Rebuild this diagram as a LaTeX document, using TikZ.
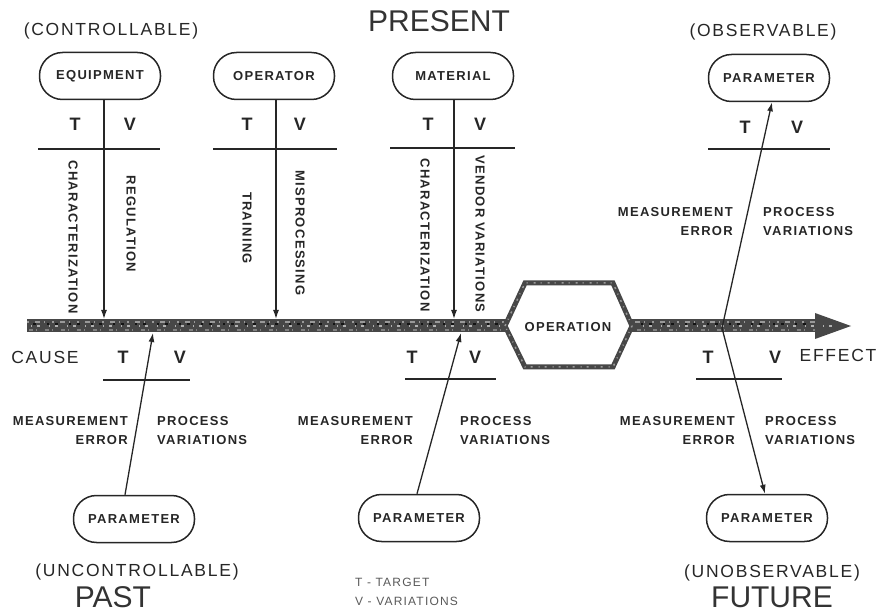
\documentclass[tikz,border=0pt]{standalone}
\usepackage{fontspec}
\setmainfont{Liberation Sans}
\newfontfamily\spaced[LetterSpace=10]{Liberation Sans}
\usetikzlibrary{arrows.meta,calc}

\tikzset{
  pill/.style={draw=black!85, line width=1.5pt, rounded corners=23pt,
    minimum width=121pt, minimum height=47pt, inner sep=0pt,
    font=\spaced\bfseries\fontsize{13}{15}\selectfont, text=black!85},
  lab/.style={inner sep=0pt, font=\spaced\bfseries\fontsize{13}{19}\selectfont, text=black!85},
  vlab/.style={lab, rotate=-90},
  tv/.style={inner sep=0pt, font=\bfseries\fontsize{18}{20}\selectfont, text=black!85},
  side/.style={inner sep=0pt, font=\spaced\fontsize{17.5}{20}\selectfont, text=black!85},
  era/.style={inner sep=0pt, font=\fontsize{30}{32}\selectfont, text=black!80},
  legend/.style={inner sep=0pt, align=left, font=\spaced\fontsize{12}{19}\selectfont, text=black!65},
  conn/.style={draw=black!85, line width=1.3pt},
  arr/.style={conn, -{Latex[length=9pt,width=6pt]}},
  tvrule/.style={draw=black!85, line width=1.6pt},
  grain/.style={line width=#1},
  hexpath/.style={insert path={
    ([shift={(-63,-1)}]opc) -- ([shift={(-43,-44)}]opc)
    -- ([shift={(45,-44)}]opc) -- ([shift={(64,-1)}]opc)
    -- ([shift={(45,40)}]opc) -- ([shift={(-43,40)}]opc) -- cycle}},
}

\begin{document}
\begin{tikzpicture}[x=1pt,y=-1pt]
\useasboundingbox (0,0) rectangle (876,612);

% ---- main cause/effect spine ----
\coordinate (tail) at (27,326);
\coordinate (head) at (815,326);
\draw[black!72, line width=13pt] (tail) -- (head);
\fill[black!72] (815,313) -- (851,326) -- (815,339) -- cycle;
% mottled grain on the spine
\draw[black!40, grain=2pt, dash pattern=on 2pt off 6pt on 5pt off 4pt on 1pt off 7pt] (27,322) -- (815,322);
\draw[black!50, grain=2pt, dash pattern=on 4pt off 3pt on 1pt off 8pt] (29,330) -- (815,330);
\draw[black!30, grain=1.2pt, dash pattern=on 1pt off 5pt on 3pt off 9pt] (31,326) -- (840,326);
\draw[black!92, grain=1.5pt, dash pattern=on 3pt off 11pt on 2pt off 6pt] (33,324) -- (812,324);

% ---- operation hexagon ----
\coordinate (opc) at (568,327);
\path[fill=white, hexpath];
\draw[black!72, line width=5pt, line join=miter, hexpath];
\draw[black!40, grain=1.5pt, dash pattern=on 2pt off 5pt on 1pt off 6pt, hexpath];
\node[lab] (op) at (opc) {OPERATION};

% ---- present: controllable inputs ----
\node[pill] (eq)  at (100,76) {EQUIPMENT};
\node[pill] (opr) at (274,76) {OPERATOR};
\node[pill] (mat) at (453,76) {MATERIAL};

\coordinate (s1) at (104,319);
\coordinate (s2) at (276,319);
\coordinate (s3) at (454,319);
\draw[arr] (eq.south -| s1) -- (s1);
\draw[arr] (opr.south -| s2) -- (s2);
\draw[arr] (mat.south -| s3) -- (s3);

\draw[tvrule] (38,149) -- (160,149);
\draw[tvrule] (213,149) -- (337,149);
\draw[tvrule] (390,148) -- (515,148);

\node[tv] at (75,124) {T};   \node[tv] at (130,124) {V};
\node[tv] at (247,124) {T};  \node[tv] at (300,124) {V};
\node[tv] at (428,124) {T};  \node[tv] at (480,124) {V};

\node[vlab] at (73,237)  {CHARACTERIZATION};
\node[vlab] at (131,224) {REGULATION};
\node[vlab] at (247,228) {TRAINING};
\node[vlab] at (300,233) {MISPROCESSING};
\node[vlab] at (425,235) {CHARACTERIZATION};
\node[vlab] at (480,234) {VENDOR VARIATIONS};

% ---- past: uncontrollable parameter ----
\node[pill] (pl) at (134,519) {PARAMETER};
\coordinate (b1) at (153,333);
\draw[arr] ($(pl.north)+(-9,0)$) -- (b1);
\draw[tvrule] (103,380) -- (190,380);
\node[tv] at (123,357) {T};  \node[tv] at (180,357) {V};
\node[lab, align=right, anchor=east] at (128,431) {MEASUREMENT\\ERROR};
\node[lab, align=left, anchor=west]  at (157,431) {PROCESS\\VARIATIONS};

% ---- present: measured parameter ----
\node[pill] (pm) at (419,518) {PARAMETER};
\coordinate (b2) at (461,333);
\draw[arr] ($(pm.north)+(-2,0)$) -- (b2);
\draw[tvrule] (405,379) -- (496,379);
\node[tv] at (412,357) {T};  \node[tv] at (475,357) {V};
\node[lab, align=right, anchor=east] at (413,431) {MEASUREMENT\\ERROR};
\node[lab, align=left, anchor=west]  at (460,431) {PROCESS\\VARIATIONS};

% ---- future: observable / unobservable parameters ----
\node[pill] (po) at (769,78) {PARAMETER};
\node[pill] (pr) at (767,518) {PARAMETER};
\coordinate (c4) at (722,328);
\draw[arr] (c4) -- ($(po.south)+(3,0)$);
\draw[arr] (c4) -- ($(pr.north)+(-2,0)$);

\draw[tvrule] (708,149) -- (830,149);
\node[tv] at (745,127) {T};  \node[tv] at (797,127) {V};
\node[lab, align=right, anchor=east] at (733,222) {MEASUREMENT\\ERROR};
\node[lab, align=left, anchor=west]  at (763,222) {PROCESS\\VARIATIONS};

\draw[tvrule] (696,379) -- (782,379);
\node[tv] at (708,357) {T};  \node[tv] at (775,357) {V};
\node[lab, align=right, anchor=east] at (735,431) {MEASUREMENT\\ERROR};
\node[lab, align=left, anchor=west]  at (765,431) {PROCESS\\VARIATIONS};

% ---- captions ----
\node[side] at (45,357)  {CAUSE};
\node[side] at (838,355) {EFFECT};
\node[side] at (111,31)  {(CONTROLLABLE)};
\node[side] at (763,32)  {(OBSERVABLE)};
\node[side] at (137,572) {(UNCONTROLLABLE)};
\node[side] at (772,573) {(UNOBSERVABLE)};
\node[era] at (439,21)  {PRESENT};
\node[era] at (113,597) {PAST};
\node[era] at (772,597) {FUTURE};
\node[legend, anchor=west] at (355,592) {T - TARGET\\V - VARIATIONS};
\end{tikzpicture}
\end{document}
